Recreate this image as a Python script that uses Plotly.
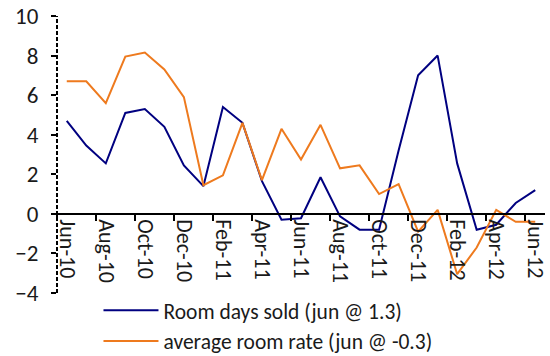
import plotly.graph_objects as go

# Monthly year-on-year changes, Jun-10 .. Jun-12
months = [
    "Jun-10", "Jul-10", "Aug-10", "Sep-10", "Oct-10", "Nov-10", "Dec-10",
    "Jan-11", "Feb-11", "Mar-11", "Apr-11", "May-11", "Jun-11", "Jul-11",
    "Aug-11", "Sep-11", "Oct-11", "Nov-11", "Dec-11", "Jan-12", "Feb-12",
    "Mar-12", "Apr-12", "May-12", "Jun-12",
]
room_days_sold = [
    4.7, 3.45, 2.55, 5.1, 5.3, 4.4, 2.45, 1.4, 5.4, 4.6, 1.65, -0.3, -0.22,
    1.85, -0.13, -0.8, -0.8, 3.2, 7.0, 8.0, 2.55, -0.8, -0.55, 0.55, 1.2,
]
avg_room_rate = [
    6.7, 6.7, 5.6, 7.95, 8.15, 7.3, 5.9, 1.45, 1.95, 4.6, 1.7, 4.3, 2.75,
    4.5, 2.3, 2.45, 1.0, 1.5, -0.9, 0.2, -3.05, -1.7, 0.2, -0.4, -0.4,
]
y_ticks = [-4, -2, 0, 2, 4, 6, 8, 10]

FONT = "Carlito, Calibri, Lato, sans-serif"
TEXT = "#1a1a1a"
Y_MIN, Y_MAX = -4, 10

fig = go.Figure()
fig.add_trace(go.Scatter(
    x=months, y=room_days_sold, mode="lines",
    name="Room days sold (jun @ 1.3)",
    line=dict(color="#000080", width=2),
))
fig.add_trace(go.Scatter(
    x=months, y=avg_room_rate, mode="lines",
    name="average room rate (jun @ -0.3)",
    line=dict(color="#EE7A1E", width=2),
))

# dashed vertical value axis
fig.add_shape(type="line", xref="paper", yref="y", x0=0, x1=0,
              y0=Y_MIN, y1=Y_MAX, line=dict(color="black", width=2, dash="4px,2px"))

fig.update_layout(
    width=550, height=356,
    margin=dict(l=57, r=5, t=16, b=63, autoexpand=False),
    paper_bgcolor="white", plot_bgcolor="white",
    font=dict(family=FONT, size=21, color=TEXT),
    showlegend=True,
    legend=dict(
        orientation="v", x=0.085, y=0.012, xanchor="left", yanchor="top",
        font=dict(family=FONT, size=21.5, color=TEXT),
        itemwidth=55, tracegroupgap=0, bgcolor="rgba(0,0,0,0)",
    ),
    xaxis=dict(
        type="category", range=[-0.5, len(months) - 0.5],
        anchor="free", position=(0 - Y_MIN) / (Y_MAX - Y_MIN),
        showline=True, linecolor="black", linewidth=2,
        ticks="outside", ticklen=6, tickwidth=2, tickcolor="black",
        tickson="boundaries", tickmode="linear", tick0=0, dtick=2,
        tickangle=90, showgrid=False, zeroline=False,
        tickfont=dict(family=FONT, size=22, color=TEXT),
    ),
    yaxis=dict(
        range=[Y_MIN, Y_MAX], tickvals=y_ticks,
        showline=False, ticks="outside", ticklen=5, tickwidth=2,
        tickcolor="black", showgrid=False, zeroline=False,
        ticklabelstandoff=8,
        tickfont=dict(family=FONT, size=23, color=TEXT),
    ),
)

fig.write_html("out.html")
